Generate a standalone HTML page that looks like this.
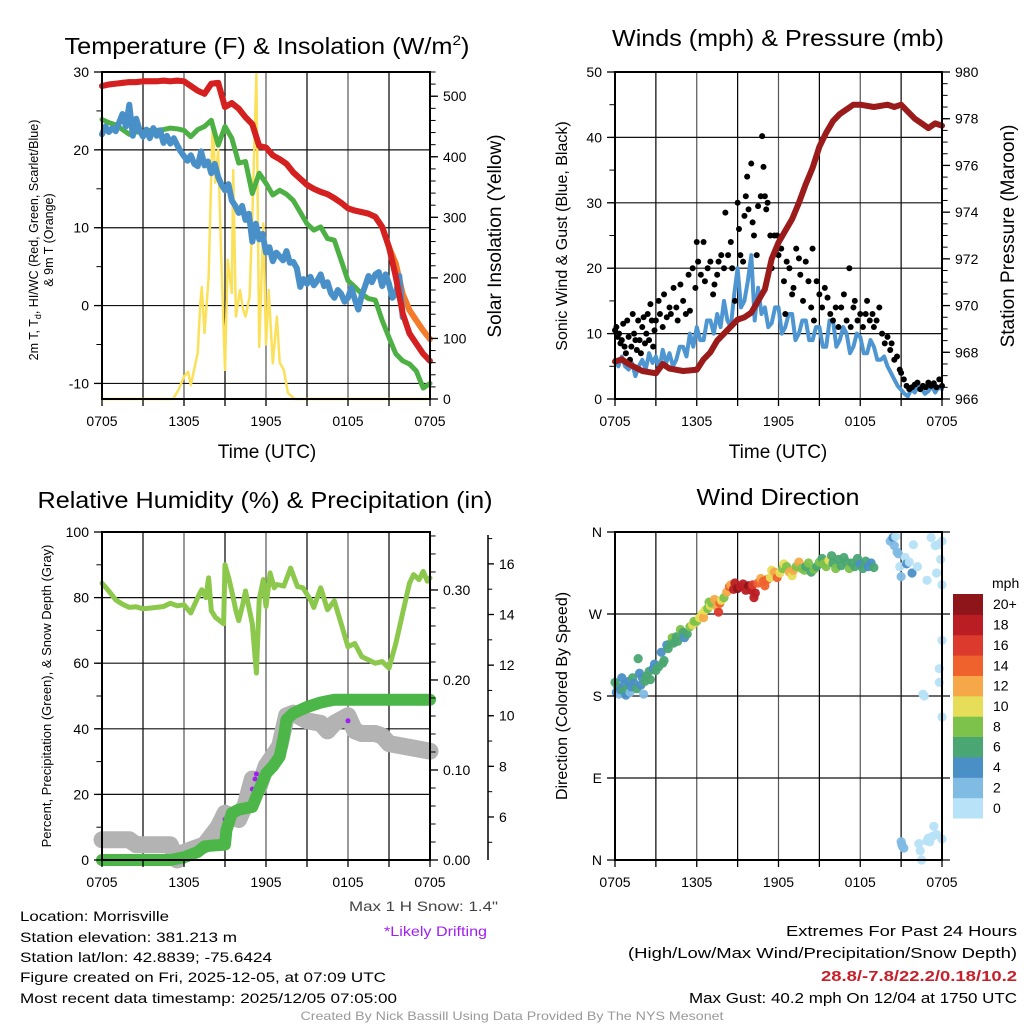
<!DOCTYPE html>
<html><head><meta charset="utf-8"><style>
html,body{margin:0;padding:0;background:#fff;}
svg{display:block;font-family:"Liberation Sans",Arial,sans-serif;}
</style></head><body>
<svg id="chart" width="1024" height="1024" viewBox="0 0 1024 1024" xmlns="http://www.w3.org/2000/svg">
<g id="layer-grid"></g>
<g id="layer-data"></g>
<g id="layer-axes"></g>
<g id="layer-text" fill="#000">
<text x="267" y="54" font-size="23" text-anchor="middle" textLength="405" lengthAdjust="spacingAndGlyphs">Temperature (F) &amp; Insolation (W/m<tspan dy="-9" font-size="14">2</tspan><tspan dy="9">)</tspan></text>
<text x="778" y="46" font-size="23" text-anchor="middle" textLength="332" lengthAdjust="spacingAndGlyphs">Winds (mph) &amp; Pressure (mb)</text>
<text x="265" y="508" font-size="23" text-anchor="middle" textLength="455" lengthAdjust="spacingAndGlyphs">Relative Humidity (%) &amp; Precipitation (in)</text>
<text x="778" y="505" font-size="23" text-anchor="middle" textLength="163" lengthAdjust="spacingAndGlyphs">Wind Direction</text>
<text x="267" y="458" font-size="19" text-anchor="middle">Time (UTC)</text>
<text x="778" y="458" font-size="19" text-anchor="middle">Time (UTC)</text>
<text transform="translate(38,240) rotate(-90)" font-size="12.5" text-anchor="middle">2m T, T<tspan dy="3" font-size="9">d</tspan><tspan dy="-3">, HI/WC (Red, Green, Scarlet/Blue)</tspan></text>
<text transform="translate(53,240) rotate(-90)" font-size="12.5" text-anchor="middle">&amp; 9m T (Orange)</text>
<text transform="translate(501,236) rotate(-90)" font-size="19" text-anchor="middle">Solar Insolation (Yellow)</text>
<text transform="translate(567,236) rotate(-90)" font-size="16" text-anchor="middle">Sonic Wind &amp; Gust (Blue, Black)</text>
<text transform="translate(1014,236) rotate(-90)" font-size="19" text-anchor="middle">Station Pressure (Maroon)</text>
<text transform="translate(51,696) rotate(-90)" font-size="13" text-anchor="middle">Percent, Precipitation (Green), &amp; Snow Depth (Gray)</text>
<text transform="translate(567,696) rotate(-90)" font-size="16" text-anchor="middle">Direction (Colored By Speed)</text>
<text x="992" y="588" font-size="14">mph</text>
<text x="498" y="911" font-size="14" fill="#444" text-anchor="end" textLength="149" lengthAdjust="spacingAndGlyphs">Max 1 H Snow: 1.4"</text>
<text x="487" y="936" font-size="14" fill="#a020f0" text-anchor="end" textLength="103" lengthAdjust="spacingAndGlyphs">*Likely Drifting</text>
<text x="20" y="921" font-size="14" textLength="149" lengthAdjust="spacingAndGlyphs">Location: Morrisville</text>
<text x="20" y="942" font-size="14" textLength="217" lengthAdjust="spacingAndGlyphs">Station elevation: 381.213 m</text>
<text x="20" y="962" font-size="14" textLength="252" lengthAdjust="spacingAndGlyphs">Station lat/lon: 42.8839; -75.6424</text>
<text x="20" y="982" font-size="14" textLength="366" lengthAdjust="spacingAndGlyphs">Figure created on Fri, 2025-12-05, at 07:09 UTC</text>
<text x="20" y="1003" font-size="14" textLength="377" lengthAdjust="spacingAndGlyphs">Most recent data timestamp: 2025/12/05 07:05:00</text>
<text x="1017" y="936" font-size="15" text-anchor="end" textLength="231" lengthAdjust="spacingAndGlyphs">Extremes For Past 24 Hours</text>
<text x="1017" y="958" font-size="15" text-anchor="end" textLength="389" lengthAdjust="spacingAndGlyphs">(High/Low/Max Wind/Precipitation/Snow Depth)</text>
<text x="1017" y="981" font-size="15" font-weight="bold" fill="#c8202a" text-anchor="end" textLength="196" lengthAdjust="spacingAndGlyphs">28.8/-7.8/22.2/0.18/10.2</text>
<text x="1017" y="1003" font-size="15" text-anchor="end" textLength="328" lengthAdjust="spacingAndGlyphs">Max Gust: 40.2 mph On 12/04 at 1750 UTC</text>
<text x="512" y="1020" font-size="12" fill="#999" text-anchor="middle" textLength="423" lengthAdjust="spacingAndGlyphs">Created By Nick Bassill Using Data Provided By The NYS Mesonet</text>
</g>
</svg>
<script>
// ---- Temperature panel data (hours since 0705 UTC) ----
const tHours = [0,0.5,1,1.5,2,2.5,3,3.5,4,4.5,5,5.5,6,6.5,7,7.5,8,8.5,9,9.5,10,10.5,11,11.5,12,12.5,13,13.5,14,14.5,15,15.5,16,16.5,17,17.5,18,18.5,19,19.5,20,20.5,21,21.5,22,22.5,23,23.5,24];
const redTemp = [28.2,28.4,28.5,28.6,28.7,28.7,28.8,28.8,28.8,28.9,28.8,28.9,28.8,28.2,27.6,27.2,28.5,28.6,25.5,26.0,25.3,24.2,23.3,20.5,20.3,19.3,18.8,18.2,17.1,16.3,15.5,15.0,14.6,14.3,13.8,13.2,12.5,12.2,12.0,11.8,11.4,10.1,7.5,3.7,-1.0,-3.6,-4.9,-6.2,-7.1];
const orangeTemp = [28.2,28.4,28.5,28.6,28.7,28.7,28.8,28.8,28.8,28.9,28.8,28.9,28.8,28.2,27.6,27.2,28.5,28.6,25.5,26.0,25.3,24.2,23.3,20.5,20.3,19.3,18.8,18.2,17.1,16.3,15.5,15.0,14.6,14.3,13.8,13.2,12.5,12.2,12.0,11.8,11.4,10.1,7.5,5.4,1.5,-0.6,-1.9,-3.2,-4.3];
const greenTemp = [23.9,23.5,23.2,22.6,22.0,22.3,22.3,22.5,22.5,22.6,22.8,22.7,22.5,21.7,22.6,23.0,23.8,20.6,23.0,21.5,18.3,18.5,14.4,17.0,15.7,14.2,14.8,14.3,13.5,12.0,10.5,9.7,10.1,8.6,8.4,5.8,3.2,2.4,1.5,0.9,0.7,-1.9,-4.1,-6.2,-7.1,-7.5,-8.4,-10.6,-10.0];
const blueHours = [0,0.25,0.5,0.75,1,1.25,1.5,1.75,2,2.25,2.5,2.75,3,3.25,3.5,3.75,4,4.25,4.5,4.75,5,5.25,5.5,5.75,6,6.25,6.5,6.75,7,7.25,7.5,7.75,8,8.25,8.5,8.75,9,9.25,9.5,9.75,10,10.25,10.5,10.75,11,11.25,11.5,11.75,12,12.25,12.5,12.75,13,13.25,13.5,13.75,14,14.25,14.5,14.75,15,15.25,15.5,15.75,16,16.25,16.5,16.75,17,17.25,17.5,17.75,18,18.25,18.5,18.75,19,19.25,19.5,19.75,20,20.25,20.5,20.75,21,21.25,21.5,21.75,22];
const blueTemp = [22.0,23.0,22.3,22.8,22.4,23.5,24.6,23.0,25.8,21.8,24.0,22.5,21.7,22.6,21.5,22.8,21.8,22.5,20.9,21.8,20.8,21.5,20.6,19.8,19.2,18.6,19.3,18.2,17.9,19.8,18.0,18.5,17.0,18.2,16.5,15.5,14.8,15.6,13.5,12.8,11.9,12.8,11.0,11.8,8.2,10.5,8.5,9.2,6.8,7.5,5.7,6.8,6.3,5.8,7.0,5.5,5.6,4.8,2.4,3.4,2.8,3.7,2.6,3.2,4.0,2.5,3.0,1.6,1.0,2.0,1.5,0.5,1.0,2.3,0.8,-0.5,1.3,2.5,3.8,3.0,4.0,4.3,2.5,4.0,2.8,1.0,1.5,3.8,-1.5];
const solarHours = [0,5.2,5.6,6,6.3,6.5,7,7.2,7.3,7.5,7.8,8.1,8.3,8.5,8.7,9.0,9.2,9.5,9.6,9.8,10.1,10.3,10.5,10.8,11.0,11.3,11.5,11.8,12.0,12.2,12.5,12.8,13.0,13.3,13.6,14.1,24];
const solarVals = [0,0,15,37,45,23,76,160,185,109,200,460,357,411,251,48,230,175,378,136,180,150,136,169,300,538,86,290,90,180,59,136,60,48,10,0,0];
const tempTicks = [-10,0,10,20,30];
const solarTicks = [0,100,200,300,400,500];
const timeLabels = ["0705","1305","1905","0105","0705"];

// ---- Wind panel data ----
const windHours = [0,0.25,0.5,0.75,1,1.25,1.5,1.75,2,2.25,2.5,2.75,3,3.25,3.5,3.75,4,4.25,4.5,4.75,5,5.25,5.5,5.75,6,6.25,6.5,6.75,7,7.25,7.5,7.75,8,8.25,8.5,8.75,9,9.25,9.5,9.75,10,10.25,10.5,10.75,11,11.25,11.5,11.75,12,12.25,12.5,12.75,13,13.25,13.5,13.75,14,14.25,14.5,14.75,15,15.25,15.5,15.75,16,16.25,16.5,16.75,17,17.25,17.5,17.75,18,18.25,18.5,18.75,19,19.25,19.5,19.75,20,20.25,20.5,20.75,21,21.25,21.5,21.75,22,22.25,22.5,22.75,23,23.25,23.5,23.75,24];
const windVals = [6,5,6.5,5,4.5,5.5,3.5,5,6,4.5,7,5.5,6.5,4.5,7.5,5.5,7,5,6,8,8,6.5,10,8,11,9,9,12,12,10,13,11,15,12,11,16,20,14,15,18,22,12,17,13,14,11,11.6,14,14,10,11,13,13,9,10,12,12,9,9,11,11,8,8,12,12,8,9,11,10,7,8,10,9.5,7,7,9,8,6,6,6.5,5,4,3,2,1.4,0.8,0.4,1.5,1,2,1.5,0.8,1.2,2,1,1.8,1.5];
const gustHours = [0.0,0.1,0.2,0.3,0.4,0.5,0.6,0.7,0.8,0.9,1.0,1.1,1.2,1.3,1.4,1.5,1.6,1.7,1.8,1.9,2.0,2.1,2.2,2.3,2.4,2.5,2.6,2.7,2.8,2.9,3.0,3.2,3.3,3.5,3.6,3.8,4.0,4.1,4.3,4.5,4.6,4.8,5.0,5.2,5.4,5.5,5.7,5.9,6.0,6.1,6.3,6.5,6.6,6.8,7.0,7.2,7.3,7.5,7.6,7.8,8.0,8.1,8.3,8.5,8.6,8.8,9.0,9.1,9.2,9.4,9.5,9.6,9.7,9.8,10.0,10.1,10.2,10.4,10.5,10.7,10.8,10.9,11.0,11.1,11.2,11.4,11.5,11.7,11.9,12.0,12.2,12.4,12.5,12.6,12.8,13.0,13.1,13.3,13.5,13.6,13.8,14.0,14.2,14.4,14.5,14.6,14.8,15.0,15.2,15.4,15.6,15.8,16.0,16.2,16.4,16.6,16.8,17.0,17.2,17.3,17.5,17.6,17.8,18.0,18.2,18.4,18.5,18.7,18.9,19.0,19.2,19.4,19.6,19.8,20.0,20.2,20.3,20.5,20.7,20.9,21.0,21.2,21.4,21.6,21.8,22.0,22.2,22.4,22.6,22.8,23.0,23.2,23.4,23.6,23.8,24.0];
const gustVals = [10.5,11,9.5,10,8.5,9,11.5,8,7,12,9.5,6,8,13,10,9,7.5,12,9,7,11,12.5,8.5,10,13,9,14.5,12,8,10.5,12,15,13,11,16,12.5,14,13,17,14,12,17.5,15,13,19,13.5,20,17,24,21,19,24,18,20,21,16,17.5,19,21,22,20,28.5,22,24,20,15,30,26,22,21,28,31,34,29,36,27,25,22,29.5,31,40.2,35.5,31,29,30,25,20,25,25,22,23,18,13,21,20,16,17,23,21.5,19,15,21,18,14,23,12,18,16,14,17,15.5,13,12,14,11,14,16,12,20,11,14,15,12,13,11,13,15,12,13,11,12,14,10,8.5,9.5,7.5,8.5,6,6.5,4.5,4,3,2,1.5,1.8,2.2,2.5,1.5,2,1.8,2.5,2,2.4,1.8,3,2];
const presHours = [0,0.5,1,2,3,3.5,4,5,6,6.5,7,7.5,8,8.5,9,9.5,10,10.5,11,11.5,12,12.5,13,13.5,14,14.5,15,15.5,16,16.5,17,17.5,18,19,20,20.5,21,21.5,22,22.5,23,23.5,24];
const presVals = [967.6,967.7,967.5,967.2,967.1,967.5,967.3,967.2,967.25,967.7,968.0,968.5,968.8,969.1,969.4,969.5,969.7,970.2,970.7,972.0,972.7,973.2,973.7,974.4,975.2,975.9,976.8,977.4,977.9,978.2,978.4,978.6,978.6,978.5,978.6,978.5,978.6,978.3,978.0,977.8,977.6,977.8,977.7];
const windTicks = [0,10,20,30,40,50];
const presTicks = [966,968,970,972,974,976,978,980];

// ---- Humidity / precip panel data ----
const rhHours = [0,0.5,1,1.5,2,2.5,3,3.5,4,4.5,5,5.5,6,6.5,7,7.3,7.6,7.8,8,8.3,8.6,8.9,9,9.3,9.6,9.8,10,10.3,10.5,10.8,11.0,11.3,11.5,11.8,12,12.3,12.6,12.8,13.3,13.8,14.3,14.7,15,15.3,15.5,16,16.5,17,17.5,18,18.5,19,19.5,20,20.5,21,21.5,22,22.5,22.8,23.2,23.5,23.8,24];
const rhVals = [84.4,82,79.3,78,77,77.2,76.6,76.8,77,77.3,78.3,77.5,77.8,75.3,80,82.4,80,86,76,74,73,72,90,85.5,80,76,73,78,82,76,72,57,79.3,85.5,77.3,87.5,83,84,83.5,89,83.4,83,81,79,77,83,76.3,79,72,65,66,62,61,60,60.5,58.5,66,75.3,84.4,87,85.5,88,85,86];
const precipHours = [0,5,6,7,7.5,8,9,9.1,9.5,10,11,11.5,12,12.5,13,13.3,13.5,14,15,16,17,24];
const precipVals = [0,0,0.003,0.009,0.015,0.016,0.017,0.033,0.052,0.056,0.059,0.078,0.096,0.104,0.115,0.137,0.156,0.163,0.170,0.175,0.178,0.178];
const snowHours = [0,2,2.5,5,5.5,6,6.5,7.5,8.5,9,10,10.5,11,11.5,12,12.5,13,13.5,14,15,16,16.5,17,18,18.5,19,20,20.5,21,22,23,24];
const snowVals = [5.1,5.1,4.9,4.9,4.3,4.6,4.7,4.9,5.6,6.15,5.9,6.5,7.5,7.2,8.0,8.4,8.8,10.0,10.1,9.8,9.7,9.4,9.7,10.0,9.4,9.3,9.3,9.2,8.9,8.8,8.7,8.6];
const driftHours = [6.8,9.0,11.0,11.2,11.3,13.2,13.4,18.0];
const driftVals = [4.6,5.9,7.1,7.5,7.7,8.7,9.0,9.8];
const rhTicks = [0,20,40,60,80,100];
const precipTicks = [0.00,0.10,0.20,0.30];
const snowTicks = [6,8,10,12,14,16];

// ---- Wind direction panel data ----
const dirHours = [0.0,0.1,0.2,0.3,0.4,0.5,0.6,0.7,0.8,0.9,1.0,1.1,1.2,1.3,1.4,1.6,1.7,1.8,1.9,2.0,2.1,2.2,2.3,2.5,2.6,2.8,2.9,3.0,3.2,3.4,3.5,3.6,3.8,3.9,4.1,4.2,4.3,4.5,4.6,4.8,5.0,5.1,5.3,5.5,5.7,5.8,6.0,6.2,6.4,6.5,6.6,6.8,6.9,7.0,7.1,7.3,7.5,7.6,7.7,7.8,8.0,8.2,8.4,8.5,8.7,8.8,9.0,9.2,9.4,9.6,9.8,10.0,10.1,10.2,10.3,10.5,10.7,10.9,11.0,11.2,11.4,11.5,11.7,11.9,12.1,12.3,12.4,12.6,12.8,13.0,13.1,13.3,13.5,13.7,13.9,14.0,14.2,14.4,14.6,14.8,15.0,15.2,15.3,15.5,15.7,15.9,16.0,16.2,16.4,16.6,16.8,17.0,17.2,17.4,17.6,17.8,18.0,18.2,18.4,18.6,18.8,19.0,20.2,20.4,20.5,20.6,20.7,20.8,20.9,21.0,21.0,21.05,21.1,21.2,21.3,21.4,21.6,21.8,21.9,22.2,22.3,22.4,22.5,22.6,22.7,22.9,23.0,23.1,23.3,23.4,23.5,23.6,23.7,23.8,23.9,24.0,24.0,24.0,24.0,24.0,23.8,23.6,22.9,23.2];
const dirDegs = [195,184,190,182,187,200,186,193,181,188,196,184,190,200,194,188,221,205,192,200,182,196,202,207,198,210,215,208,212,228,216,219,236,232,238,244,238,245,240,253,250,244,248,256,258,262,262,266,270,266,274,276,283,279,282,286,278,272,282,285,288,294,300,302,297,304,298,300,303,296,301,296,302,288,293,304,309,306,301,308,310,318,316,310,315,320,325,322,316,312,318,322,327,320,318,322,326,316,319,322,327,331,325,322,329,334,326,320,330,323,332,327,320,326,322,331,325,320,328,322,326,321,350,354,345,355,338,336,322,311,20,17,15,13,332,325,327,315,346,322,18,10,0,182,180,307,24,20,26,37,345,315,346,210,330,302,241,350,23,157,195,28,21,354];
const dirSpeeds = [6,4,6,3,4,4,6,4,4,6,5,2,4,6,4,6,6,4,4,4,3,6,6,6,7,4,4,6,6,4,6,7,4,6,7,8,6,6,6,8,6,4,6,9,10,8,9,10,10,12,11,8,9,11,8,12,12,17,14,10,9,12,15,13,18,19,20,19,18,19,20,18,16,18,18,14,12,14,15,14,10,10,12,14,10,9,10,8,12,11,12,9,12,9,8,7,8,7,8,6,9,6,8,8,10,6,6,8,6,7,6,6,8,6,6,6,4,6,6,5,4,6,3,4,2,1,2,3,1,2,3,3,3,3,1,4,1,4,1,1,1,1,1,1,1,1,1,1,1,1,1,1,1,1,1,1,1,1,1,1,1,1,1,1];
const dirTicks = [0,90,180,270,360];
const dirLabels = ["N","E","S","W","N"];
const speedLabels = ["0","2","4","6","8","10","12","14","16","18","20+"];
const speedColors = ["#b7e2f7","#80bbe4","#4a8fc6","#4aa672","#7dc24a","#e6de58","#f6a848","#f0622d","#dc3a2c","#bb1d24","#8e1519"];

// ---------- drawing ----------
const NS = "http://www.w3.org/2000/svg";
const gGrid = document.getElementById("layer-grid");
const gData = document.getElementById("layer-data");
const gAx = document.getElementById("layer-axes");
function mk(parent, tag, attrs, txt){
  const el = document.createElementNS(NS, tag);
  for (const k in attrs) el.setAttribute(k, attrs[k]);
  if (txt !== undefined) el.textContent = txt;
  parent.appendChild(el);
  return el;
}
const P1 = {x0:102,x1:430,y0:72,y1:399};
const P2 = {x0:615,x1:942,y0:72,y1:399};
const P3 = {x0:102,x1:430,y0:532,y1:860};
const P4 = {x0:615,x1:942,y0:532,y1:860};
function xs(P){ return h => P.x0 + h*(P.x1-P.x0)/24; }
function lin(P, lo, hi){ return v => P.y1 - (v-lo)*(P.y1-P.y0)/(hi-lo); }
const x1 = xs(P1), x2 = xs(P2), x3 = xs(P3), x4 = xs(P4);
const yT = lin(P1,-12,30), yS = lin(P1,0,540);
const yW = lin(P2,0,50), yP = lin(P2,966,980);
const yR = lin(P3,0,100), yPr = lin(P3,0,0.3644), ySn = lin(P3,4.3,17.26);
const yD = lin(P4,0,360);

function line(xf, yf, hs, vs, color, w, name){
  let d = "";
  for (let i=0;i<hs.length;i++) d += (i?"L":"M") + xf(hs[i]).toFixed(1) + "," + yf(vs[i]).toFixed(1);
  const el = mk(gData, "path", {d:d, fill:"none", stroke:color, "stroke-width":w, "stroke-linecap":"round", "stroke-linejoin":"round"});
  
  
  return el;
}
function frame(P, name){
  for (let h=3; h<24; h+=3){
    const gl = mk(gGrid, "line", {x1:P.x0+h*(P.x1-P.x0)/24, x2:P.x0+h*(P.x1-P.x0)/24, y1:P.y0, y2:P.y1, stroke:(h%6?"#000":"#555"), "stroke-width":1.2});
    
    
  }
  const r = mk(gAx, "rect", {x:P.x0, y:P.y0, width:P.x1-P.x0, height:P.y1-P.y0, fill:"none", stroke:"#000", "stroke-width":2});
  
  
  const xf = xs(P);
  for (let h=0; h<=24; h+=3){
    const t = mk(gAx, "line", {x1:xf(h), x2:xf(h), y1:P.y1, y2:P.y1+7, stroke:"#000", "stroke-width":1.3});
    
    
  }
  timeLabels.forEach((lab,i)=>{
    const t = mk(gAx, "text", {x:xf(i*6), y:P.y1+27, "font-size":14, "text-anchor":"middle"}, lab);
    
    
  });
}
function hgrid(P, yf, vals, name){
  vals.forEach(v=>{
    const y = yf(v);
    if (y <= P.y0+1 || y >= P.y1-1) return;
    const g = mk(gGrid, "line", {x1:P.x0, x2:P.x1, y1:y, y2:y, stroke:"#111", "stroke-width":1.2});
    
    
  });
}
function yaxis(x, side, yf, ticks, labels, minorStep, lo, hi, name, len){
  len = len || 8;
  const dir = side==="left" ? -1 : 1;
  ticks.forEach((v,i)=>{
    const y = yf(v);
    const t = mk(gAx, "line", {x1:x, x2:x+dir*len, y1:y, y2:y, stroke:"#000", "stroke-width":1.3});
    
    
    const lb = mk(gAx, "text", {x:x+dir*(len+5), y:y+5, "font-size":14, "text-anchor": side==="left"?"end":"start"}, labels[i]);
    
    
  });
  if (minorStep){
    for (let v=lo; v<=hi+1e-9; v+=minorStep){
      const y = yf(v);
      const t = mk(gAx, "line", {x1:x, x2:x+dir*len*0.7, y1:y, y2:y, stroke:"#000", "stroke-width":1});
      
      
    }
  }
}

// Panel 1
frame(P1, "temperature-panel");
hgrid(P1, yT, tempTicks, "temperature");
yaxis(P1.x0, "left", yT, tempTicks, tempTicks.map(String), 5, -10, 30, "temperature-y");
yaxis(P1.x1, "right", yS, solarTicks, solarTicks.map(String), 20, 0, 540, "solar-y");
line(x1, yS, solarHours, solarVals, "#fbe15a", 2.5, "solar-insolation-line");
line(x1, yT, tHours, orangeTemp, "#f47b2a", 6, "temp-9m-orange-line");
line(x1, yT, tHours, greenTemp, "#4cb044", 5, "dewpoint-green-line");
line(x1, yT, blueHours, blueTemp, "#4a90c8", 6, "windchill-blue-line");
line(x1, yT, tHours, redTemp, "#d42020", 6, "temp-2m-red-line");

// Panel 2
frame(P2, "winds-panel");
hgrid(P2, yW, windTicks, "winds");
yaxis(P2.x0, "left", yW, windTicks, windTicks.map(String), 5, 0, 50, "wind-y");
yaxis(P2.x1, "right", yP, presTicks, presTicks.map(String), 0.5, 966, 980, "pressure-y");
line(x2, yW, windHours, windVals, "#4e96d1", 4, "sonic-wind-line");
gustHours.forEach((h,i)=>{
  const c = mk(gData, "circle", {cx:x2(h), cy:yW(gustVals[i]), r:3, fill:"#000"});
  
  
});
line(x2, yP, presHours, presVals, "#9b1a1a", 6, "pressure-line");

// Panel 3
frame(P3, "humidity-panel");
hgrid(P3, yR, rhTicks, "humidity");
yaxis(P3.x0, "left", yR, rhTicks, rhTicks.map(String), 10, 0, 100, "percent-y");
yaxis(P3.x1, "right", yPr, precipTicks, precipTicks.map(v=>v.toFixed(2)), 0.02, 0, 0.36, "precip-y");
const sx = 488;
const sAx = mk(gAx, "line", {x1:sx, x2:sx, y1:535, y2:P3.y1, stroke:"#000", "stroke-width":1.5});


yaxis(sx, "right", ySn, snowTicks, snowTicks.map(String), 1, 5, 17, "snow-depth-y", 6);
line(x3, ySn, snowHours, snowVals, "#b3b3b3", 17, "snow-depth-line");
driftHours.forEach((h,i)=>{
  const c = mk(gData, "circle", {cx:x3(h), cy:ySn(driftVals[i]), r:2.5, fill:"#a020f0"});
  
  
});
line(x3, yPr, precipHours, precipVals, "#4cb748", 12, "precipitation-line");
line(x3, yR, rhHours, rhVals, "#8cc84b", 5, "relative-humidity-line");

// Panel 4
frame(P4, "direction-panel");
hgrid(P4, yD, dirTicks, "direction");
yaxis(P4.x0, "left", yD, dirTicks, dirLabels, 0, 0, 0, "direction-y");
dirTicks.forEach(v=>{
  const t = mk(gAx, "line", {x1:P4.x1, x2:P4.x1+8, y1:yD(v), y2:yD(v), stroke:"#000", "stroke-width":1.2});
  
  
});
dirHours.forEach((h,i)=>{
  const b = Math.max(0, Math.min(10, Math.floor(dirSpeeds[i]/2)));
  const c = mk(gData, "circle", {cx:x4(h), cy:yD(dirDegs[i]), r:4.6, fill:speedColors[b], "fill-opacity":0.95});
  
  
});
const cbTop = 594, cbH = 224/11;
speedColors.forEach((col,i)=>{
  const y = cbTop + (10-i)*cbH;
  const r = mk(gAx, "rect", {x:953, y:y, width:30, height:cbH+0.5, fill:col});
  
  
  const t = mk(gAx, "text", {x:993, y:y+cbH/2+5, "font-size":14}, speedLabels[i]);
  
  
});
</script>
</body></html>
